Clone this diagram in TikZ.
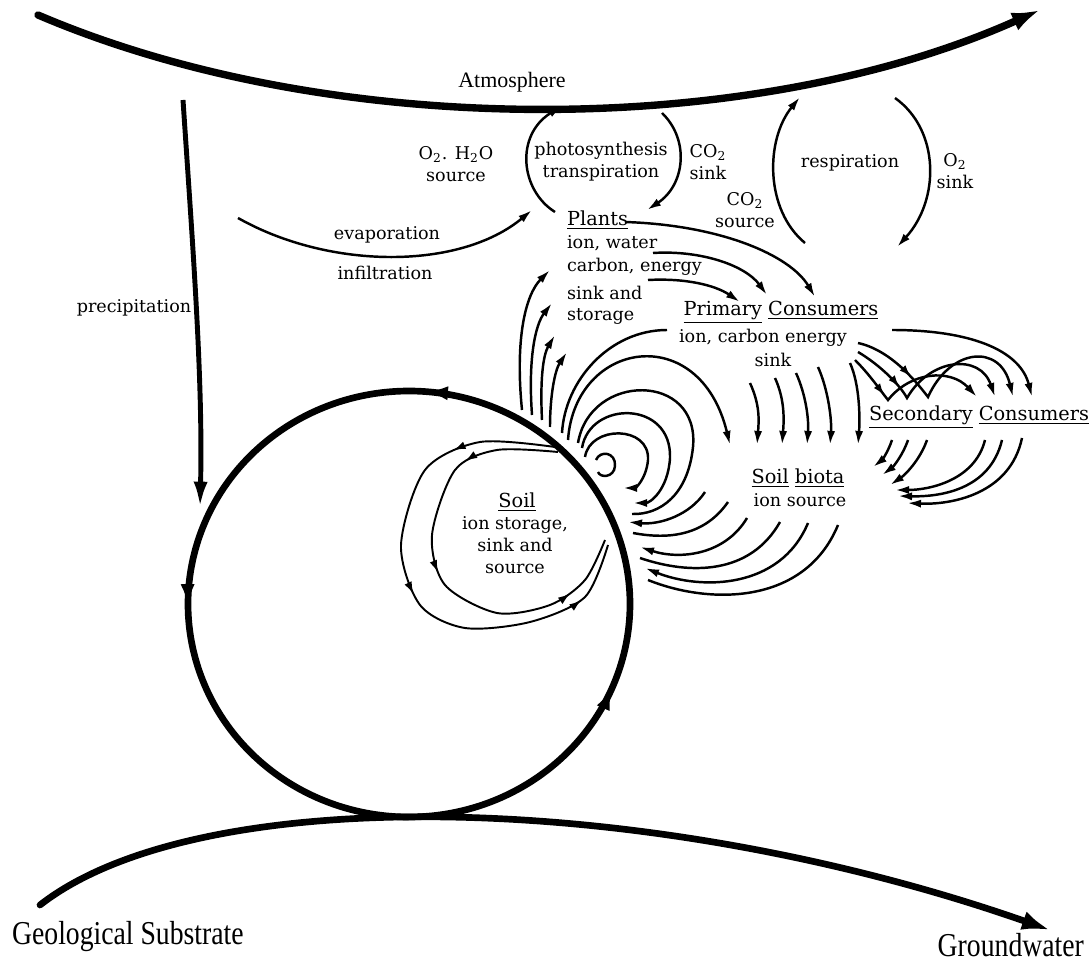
\documentclass[tikz,border=0pt]{standalone}
\usepackage{fontspec}
\setmainfont{DejaVu Serif}
\newfontfamily\capfont{Liberation Serif}
\newfontfamily\polefont[FakeStretch=0.83]{Liberation Serif}
\usetikzlibrary{arrows.meta, decorations.markings}

\begin{document}
\begin{tikzpicture}[x=0.02cm, y=-0.02cm,
  lbl/.style={font=\fontsize{10}{12.5}\selectfont, inner sep=1pt, align=center},
  head/.style={font=\fontsize{11}{13}\selectfont, inner sep=1pt, align=center},
  realmtext/.style={font=\capfont\fontsize{12.5}{14}\selectfont, inner sep=1pt},
  poletext/.style={font=\polefont\fontsize{19}{21}\selectfont, inner sep=1pt},
  heavy/.style={line width=3.8pt, line cap=round},
  rain/.style={line width=2.8pt, -{Latex[length=15pt, width=8pt]}},
  flow/.style={line width=1.4pt, -{Latex[length=8pt, width=4.6pt]}},
  link/.style={line width=1.4pt},
  loopline/.style={line width=1.1pt},
  midarrow/.style={postaction={decorate, decoration={markings,
      mark=at position #1 with {\arrow{Latex[length=7pt, width=4.5pt]}}}}},
  bigarrow/.style={postaction={decorate, decoration={markings,
      mark=at position #1 with {\arrow{Latex[length=13pt, width=8pt]}}}}}]

\useasboundingbox (0,0) rectangle (1092,962);

% ============================================================
% Outer flows: atmosphere, substrate, precipitation
% ============================================================
\draw[heavy, line width=4.2pt, -{Latex[length=16pt, width=11pt]}]
  (38,15) .. controls (330,140) and (750,140) .. (1040,10);
\node[realmtext] (atm) at (512,82) {Atmosphere};

\draw[heavy, -{Latex[length=16pt, width=11pt]}]
  (40,905) .. controls (200,780) and (650,790) .. (1050,930);
\node[poletext, anchor=west] (geo) at (10,937) {Geological Substrate};
\node[poletext, anchor=east] (gw) at (1086,945) {Groundwater};

\draw[rain] (183,100) .. controls (193,250) and (203,380) .. (200,508);
\node[lbl] (precip) at (134,308) {precipitation};

% Soil compartment (big ring, counter-clockwise)
\draw[heavy, bigarrow=0.23, bigarrow=0.494, bigarrow=0.929]
  plot[domain=0:357, samples=120, smooth cycle]
  ({409+221*cos(\x)}, {604-213*sin(\x)});

% ============================================================
% Plants: gas exchange and water
% ============================================================
\draw[flow] (238,218) .. controls (330,270) and (460,270) .. (532,210);
\node[lbl] (evap) at (387,235) {evaporation};
\node[lbl] (infil) at (385,273) {infiltration};

\node[lbl] (o2src) at (456,164) {O\textsubscript{2}. H\textsubscript{2}O\\source};
\draw[flow] (555,212) .. controls (520,190) and (515,135) .. (562,106);
\draw[flow] (662,113) .. controls (690,140) and (685,185) .. (647,210);
\node[lbl] (photo) at (601,162) {photosynthesis\\transpiration};
\node[lbl, align=left] (co2sink) at (708,162) {CO\textsubscript{2}\\sink};

\draw[flow] (805,243) .. controls (765,210) and (765,140) .. (800,97);
\draw[flow] (895,98) .. controls (940,130) and (940,200) .. (897,247);
\node[lbl] (resp) at (850,163) {respiration};
\node[lbl] (co2src) at (745,210) {CO\textsubscript{2}\\source};
\node[lbl] (o2sink) at (955,171) {O\textsubscript{2}\\sink};

% Plants block
\node[head, anchor=west] (plants) at (565,220) {\underline{Plants}};
\node[lbl, anchor=west] (plantsA) at (565,243) {ion, water};
\node[lbl, anchor=west] (plantsB) at (565,267) {carbon, energy};
\node[lbl, anchor=west] (plantsC) at (565,293) {sink and};
\node[lbl, anchor=west] (plantsD) at (565,316) {storage};

% Plants -> primary consumers
\draw[flow] (625,222) .. controls (720,225) and (790,255) .. (815,297);
\draw[flow] (653,253) .. controls (700,250) and (745,265) .. (767,295);
\draw[flow] (648,280) .. controls (685,278) and (715,285) .. (740,302);

% Soil -> plants uptake
\draw[flow] (522,410) .. controls (515,340) and (525,295) .. (550,270);
\draw[flow] (532,415) .. controls (528,360) and (535,325) .. (552,303);
\draw[flow] (542,420) .. controls (540,380) and (543,355) .. (555,335);
\draw[flow] (550,427) .. controls (550,395) and (555,370) .. (567,352);

% ============================================================
% Consumers
% ============================================================
\node[head] (pc) at (781,312) {\underline{Primary} \underline{Consumers}};
\node[lbl] (pcA) at (763,338) {ion, carbon energy};
\node[lbl] (pcB) at (773,360) {sink};

\node[head] (sc) at (979,417) {\underline{Secondary} \underline{Consumers}};

\node[head] (sb) at (798,478) {\underline{Soil} \underline{biota}};
\node[lbl] (sbA) at (800,500) {ion source};

% primary consumers -> soil, soil -> soil biota
\draw[link] (667,330) .. controls (610,330) and (565,380) .. (562,433);
\draw[flow] (568,440) .. controls (575,340) and (700,320) .. (730,445);

% primary consumers -> soil biota
\foreach \sx/\sy/\tx in {750/383/757, 775/378/782, 796/373/807,
                         818/367/830, 850/363/858}{
  \draw[flow] (\sx,\sy) .. controls ({\sx+10},{\sy+22}) and ({\tx+2},420) .. (\tx,445);
}

% primary -> secondary consumers
\draw[flow] (892,330) .. controls (970,330) and (1020,350) .. (1032,397);
\draw[flow, midarrow=0.3] (855,360) .. controls (870,375) and (880,390) .. (888,400)
  .. controls (910,372) and (950,368) .. (977,397);
\draw[flow, midarrow=0.3] (858,352) .. controls (880,365) and (900,385) .. (907,398)
  .. controls (930,358) and (980,353) .. (995,397);
\draw[flow, midarrow=0.3] (858,343) .. controls (890,350) and (915,380) .. (928,397)
  .. controls (950,348) and (1000,343) .. (1013,397);

% secondary consumers -> soil biota
\draw[flow] (892,440) .. controls (888,452) and (882,460) .. (873,467);
\draw[flow] (908,440) .. controls (903,455) and (893,467) .. (882,475);
\draw[flow] (927,440) .. controls (920,460) and (905,475) .. (890,485);
\draw[flow] (985,440) .. controls (975,480) and (930,490) .. (895,490);
\draw[flow] (1002,440) .. controls (990,490) and (940,497) .. (898,496);
\draw[flow] (1022,438) .. controls (1010,495) and (950,505) .. (907,503);

% ============================================================
% Soil exchange loops (outside the ring)
% ============================================================
\draw[link] (596,460) .. controls (600,450) and (616,452) .. (615,466)
  .. controls (614,478) and (600,478) .. (598,472);
\draw[flow] (585,457) .. controls (590,425) and (650,425) .. (648,460)
  .. controls (646,480) and (635,488) .. (623,488);
\draw[flow] (582,448) .. controls (590,400) and (672,400) .. (670,458)
  .. controls (668,490) and (650,503) .. (633,503);
\draw[link] (578,443) .. controls (590,372) and (700,372) .. (693,447)
  .. controls (688,495) and (660,515) .. (632,514);

% soil biota -> soil
\draw[flow] (705,492) .. controls (690,515) and (660,525) .. (628,522);
\draw[link] (728,502) .. controls (705,535) and (670,540) .. (633,533);
\draw[flow] (747,518) .. controls (725,555) and (680,560) .. (640,547);
\draw[link] (780,522) .. controls (750,575) and (690,575) .. (640,558);
\draw[flow] (808,523) .. controls (780,590) and (700,590) .. (645,568);
\draw[link] (838,525) .. controls (805,605) and (710,605) .. (648,580);

% ============================================================
% Soil internal cycling (inside the ring)
% ============================================================
\draw[loopline, midarrow=0.2, midarrow=0.52, midarrow=0.88]
  plot[smooth] coordinates {(555,447) (480,442) (425,470) (401,545)
    (420,605) (465,628) (530,622) (585,597) (608,545)};
\draw[loopline, midarrow=0.22, midarrow=0.5, midarrow=0.85]
  plot[smooth] coordinates {(558,452) (497,450) (455,470) (432,535)
    (445,585) (497,613) (550,605) (585,580) (605,540)};

\node[head] (soil) at (517,502) {\underline{Soil}};
\node[lbl] (soilA) at (515,545) {ion storage,\\sink and\\source};

\end{tikzpicture}
\end{document}
